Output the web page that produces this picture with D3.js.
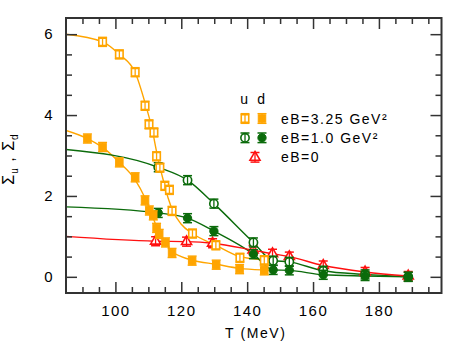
<!DOCTYPE html>
<html>
<head>
<meta charset="utf-8">
<script src="https://cdn.jsdelivr.net/npm/d3@7"></script>
<style>
  body { margin: 0; background: #fff; }
  text { font-family: "Liberation Sans", Arial, sans-serif; fill: #000; }
</style>
</head>
<body>
<svg id="chart" width="474" height="360"></svg>
<script>
// eB = 3.25 GeV^2, u quark (open squares)
const tOrU = [96.1, 101.2, 106.0, 109.0, 110.2, 111.7, 112.5, 113.5, 115.0, 116.4, 117.2, 123.4, 130.5, 137.8, 145.2];
const vOrU = [5.81, 5.50, 5.06, 4.23, 3.77, 3.57, 2.98, 2.70, 2.25, 2.15, 1.63, 1.07, 0.78, 0.47, 0.41];
// eB = 3.25 GeV^2, d quark (filled squares)
const tOrD = [91.5, 96.1, 101.2, 106.0, 109.0, 110.3, 111.5, 112.5, 113.3, 115.2, 117.2, 123.3, 130.6, 137.7, 145.2];
const vOrD = [3.42, 3.21, 2.83, 2.46, 1.89, 1.64, 1.52, 1.21, 1.06, 0.85, 0.59, 0.40, 0.30, 0.19, 0.16];
// fit curves for eB = 3.25
const fitTOrU = [85, 96.1, 101.2, 106, 109, 111, 113, 114.5, 116, 117.5, 120, 123.4, 130.5, 137.8, 145.2, 149];
const fitVOrU = [6.0, 5.81, 5.50, 5.05, 4.3, 3.7, 2.9, 2.4, 1.95, 1.62, 1.3, 1.07, 0.78, 0.50, 0.42, 0.40];
const fitTOrD = [85, 91.5, 96.1, 101.2, 106, 109, 111, 113, 115, 117.2, 120, 123.4, 130.6, 137.7, 145.2, 149];
const fitVOrD = [3.62, 3.42, 3.20, 2.83, 2.40, 1.95, 1.55, 1.15, 0.87, 0.62, 0.50, 0.41, 0.31, 0.21, 0.17, 0.16];

// eB = 1.0 GeV^2
const tGr = [113.0, 121.9, 129.9, 141.9, 147.9, 152.8, 163.1, 175.8, 188.9];
const vGrU = [2.71, 2.39, 1.81, 0.85, 0.40, 0.37, 0.15, 0.06, 0.0];
const vGrD = [1.58, 1.45, 1.13, 0.56, 0.17, 0.16, 0.05, 0.02, 0.0];
const grUStart = 3.15, grDStart = 1.73;

// eB = 0
const tRed = [112.2, 121.6, 129.5, 141.8, 147.7, 152.8, 163.1, 175.8, 188.9];
const vRed = [0.88, 0.87, 0.83, 0.66, 0.57, 0.50, 0.28, 0.12, 0.02];
const redStart = 1.0;

const err = 0.11;

const xMajor = [100, 120, 140, 160, 180];
const yMajor = [0, 2, 4, 6];

const ORANGE = "#ffa500", GREEN = "#0b6b0b", RED = "#ff1010", AXIS = "#333";

const svg = d3.select("#chart");
const L = 66, R = 441.5, T = 18, B = 293;

const x = d3.scaleLinear().domain([85, 199]).range([L, R]);
const y = d3.scaleLinear().domain([-0.4, 6.4]).range([B, T]);

const plot = svg.append("g");
plot.append("clipPath").attr("id", "clip")
  .append("rect").attr("x", L).attr("y", T).attr("width", R - L).attr("height", B - T);

const zip = (ts, vs) => ts.map((t, i) => ({t: t, v: vs[i]}));

const line = d3.line()
  .x(d => x(d.t)).y(d => y(d.v))
  .curve(d3.curveMonotoneX);

const curves = plot.append("g").attr("clip-path", "url(#clip)");
function drawCurve(data, color) {
  curves.append("path").datum(data)
    .attr("d", line)
    .attr("fill", "none")
    .attr("stroke", color)
    .attr("stroke-width", 1.4);
}

drawCurve(zip(fitTOrU, fitVOrU), ORANGE);
drawCurve(zip(fitTOrD, fitVOrD), ORANGE);
drawCurve([{t: 85, v: grUStart}].concat(zip(tGr, vGrU)), GREEN);
drawCurve([{t: 85, v: grDStart}].concat(zip(tGr, vGrD)), GREEN);
drawCurve([{t: 85, v: redStart}].concat(zip(tRed, vRed)), RED);

// markers with error bars
const shapes = {
  square: d3.symbol().type(d3.symbolSquare).size(56),
  circle: d3.symbol().type(d3.symbolCircle).size(54),
  triangle: d3.symbol().type(d3.symbolTriangle).size(44)
};

function marker(g, px, py, shape, color, open, ePx) {
  const m = g.append("g").attr("transform", `translate(${px},${py})`);
  m.append("path")
    .attr("d", shapes[shape]())
    .attr("fill", open ? "#fff" : color)
    .attr("stroke", color)
    .attr("stroke-width", open ? 1.6 : 1);
  m.append("line").attr("x1", 0).attr("x2", 0).attr("y1", -ePx).attr("y2", ePx)
    .attr("stroke", color).attr("stroke-width", 1.3);
  [-ePx, ePx].forEach(dy => m.append("line")
    .attr("x1", -4.5).attr("x2", 4.5).attr("y1", dy).attr("y2", dy)
    .attr("stroke", color).attr("stroke-width", 1.5));
}

function drawPoints(ts, vs, shape, color, open) {
  const g = plot.append("g");
  ts.forEach((t, i) => {
    const ePx = Math.max(y(vs[i] - err) - y(vs[i]), 4.5);
    marker(g, x(t), y(vs[i]), shape, color, open, ePx);
  });
}

drawPoints(tRed, vRed, "triangle", RED, true);
drawPoints(tGr, vGrU, "circle", GREEN, true);
drawPoints(tGr, vGrD, "circle", GREEN, false);
drawPoints(tOrU, vOrU, "square", ORANGE, true);
drawPoints(tOrD, vOrD, "square", ORANGE, false);

// axes: ticks inward on all four sides
const axes = svg.append("g");
function styleAxis(g) {
  g.select(".domain").remove();
  g.selectAll(".tick line").attr("stroke", AXIS).attr("stroke-width", 1.5);
  g.selectAll(".tick text")
    .style("font-size", "15px")
    .style("letter-spacing", "1.5px")
    .attr("fill", "#000");
}
const xMinor = d3.range(90, 199, 5).filter(v => !xMajor.includes(v));
const yMinor = d3.range(0, 6.4, 0.5).filter(v => !yMajor.includes(v));
const fmt = d3.format("d");

axes.append("g").attr("transform", `translate(0,${B})`)
  .call(d3.axisBottom(x).tickValues(xMajor).tickSize(-11).tickPadding(12).tickFormat(fmt)).call(styleAxis);
axes.append("g").attr("transform", `translate(0,${B})`)
  .call(d3.axisBottom(x).tickValues(xMinor).tickSize(-6).tickFormat("")).call(styleAxis);
axes.append("g").attr("transform", `translate(0,${T})`)
  .call(d3.axisTop(x).tickValues(xMajor).tickSize(-11).tickFormat("")).call(styleAxis);
axes.append("g").attr("transform", `translate(0,${T})`)
  .call(d3.axisTop(x).tickValues(xMinor).tickSize(-6).tickFormat("")).call(styleAxis);

axes.append("g").attr("transform", `translate(${L},0)`)
  .call(d3.axisLeft(y).tickValues(yMajor).tickSize(-11).tickPadding(12).tickFormat(fmt)).call(styleAxis);
axes.append("g").attr("transform", `translate(${L},0)`)
  .call(d3.axisLeft(y).tickValues(yMinor).tickSize(-6).tickFormat("")).call(styleAxis);
axes.append("g").attr("transform", `translate(${R},0)`)
  .call(d3.axisRight(y).tickValues(yMajor).tickSize(-11).tickFormat("")).call(styleAxis);
axes.append("g").attr("transform", `translate(${R},0)`)
  .call(d3.axisRight(y).tickValues(yMinor).tickSize(-6).tickFormat("")).call(styleAxis);

axes.append("rect")
  .attr("x", L).attr("y", T).attr("width", R - L).attr("height", B - T)
  .attr("fill", "none").attr("stroke", AXIS).attr("stroke-width", 2);

// axis titles
svg.append("text")
  .attr("x", (L + R) / 2 + 2).attr("y", 338)
  .attr("text-anchor", "middle")
  .style("font-size", "14px").style("letter-spacing", "1.6px")
  .text("T (MeV)");

const yl = svg.append("text")
  .attr("transform", "translate(14,159) rotate(-90)")
  .attr("text-anchor", "middle")
  .style("font-size", "16px").style("letter-spacing", "1px");
yl.append("tspan").text("Σ");
yl.append("tspan").attr("dy", 4).style("font-size", "10px").text("u");
yl.append("tspan").attr("dy", -4).attr("xml:space", "preserve").text(" , ");
yl.append("tspan").text("Σ");
yl.append("tspan").attr("dy", 4).style("font-size", "10px").text("d");

// legend
const leg = svg.append("g");
const legFont = g => g.style("font-size", "14px").style("letter-spacing", "1.5px");
leg.append("text").attr("x", 245).attr("y", 104).attr("text-anchor", "middle").call(legFont).text("u");
leg.append("text").attr("x", 262).attr("y", 104).attr("text-anchor", "middle").call(legFont).text("d");

const legRows = [
  {label: "eB=3.25 GeV²", color: ORANGE, shape: "square", u: true, d: true},
  {label: "eB=1.0 GeV²", color: GREEN, shape: "circle", u: true, d: true},
  {label: "eB=0", color: RED, shape: "triangle", u: false, d: false}
];
const legY = [118.5, 137.8, 157.3];
legRows.forEach((r, i) => {
  const g = leg.append("g");
  if (r.u) marker(g, 245, legY[i], r.shape, r.color, true, 4.8);
  if (r.d) marker(g, 262, legY[i], r.shape, r.color, false, 4.8);
  if (!r.u && !r.d) marker(g, 255, legY[i], r.shape, r.color, true, 4.8);
  g.append("text").attr("x", 281).attr("y", legY[i] + 5)
    .call(legFont).text(r.label);
});
</script>
</body>
</html>
